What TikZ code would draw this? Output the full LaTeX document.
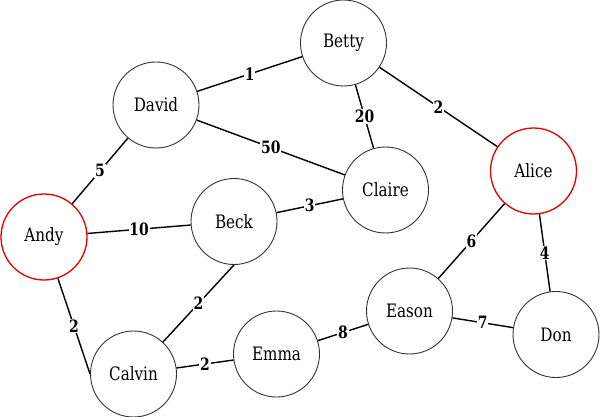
\documentclass[tikz,border=0pt]{standalone}
\usepackage{fontspec}
\setmainfont[FakeStretch=0.82]{DejaVu Serif}

\begin{document}
\begin{tikzpicture}[x=1pt, y=-1pt,
  person/.style={draw=black!80, line width=0.9pt, circle, minimum size=86pt, inner sep=0pt, font=\fontsize{18.5}{20}\selectfont},
  source/.style={person, draw=red!90!black, line width=1.3pt},
  link/.style={line width=1.4pt},
  weight/.style={fill=white, inner sep=0.8pt, font=\fontsize{17}{18}\selectfont\bfseries}]
\useasboundingbox (0,0) rectangle (600,417);

\node[person] (betty) at (343.5, 43) {Betty};
\node[person] (david) at (156, 105) {David};
\node[source] (alice) at (533.5, 171) {Alice};
\node[person] (claire) at (385.5, 190) {Claire};
\node[source] (andy) at (44, 237) {Andy};
\node[person] (beck) at (234, 221.5) {Beck};
\node[person] (eason) at (409.5, 311) {Eason};
\node[person] (don) at (556, 334.5) {Don};
\node[person] (emma) at (276.5, 354) {Emma};
\node[person] (calvin) at (133.5, 374) {Calvin};

\draw[link] (david) -- node[weight] {1} (betty);
\draw[link] (betty) -- node[weight] {20} (claire);
\draw[link] (betty) -- node[weight] {2} (alice);
\draw[link] (david) -- node[weight] {50} (claire);
\draw[link] (andy) -- node[weight] {5} (david);
\draw[link] (andy) -- node[weight] {10} (beck);
\draw[link] (beck) -- node[weight] {3} (claire);
\draw[link] (andy) -- node[weight] {2} (calvin.west);
\draw[link] (calvin) -- node[weight] {2} (beck.south);
\draw[link] (calvin) -- node[weight] {2} (emma);
\draw[link] (emma) -- node[weight] {8} (eason);
\draw[link] (alice) -- node[weight] {6} (eason);
\draw[link] (alice) -- node[weight] {4} (don);
\draw[link] (eason) -- node[weight] {7} (don);
\end{tikzpicture}
\end{document}
